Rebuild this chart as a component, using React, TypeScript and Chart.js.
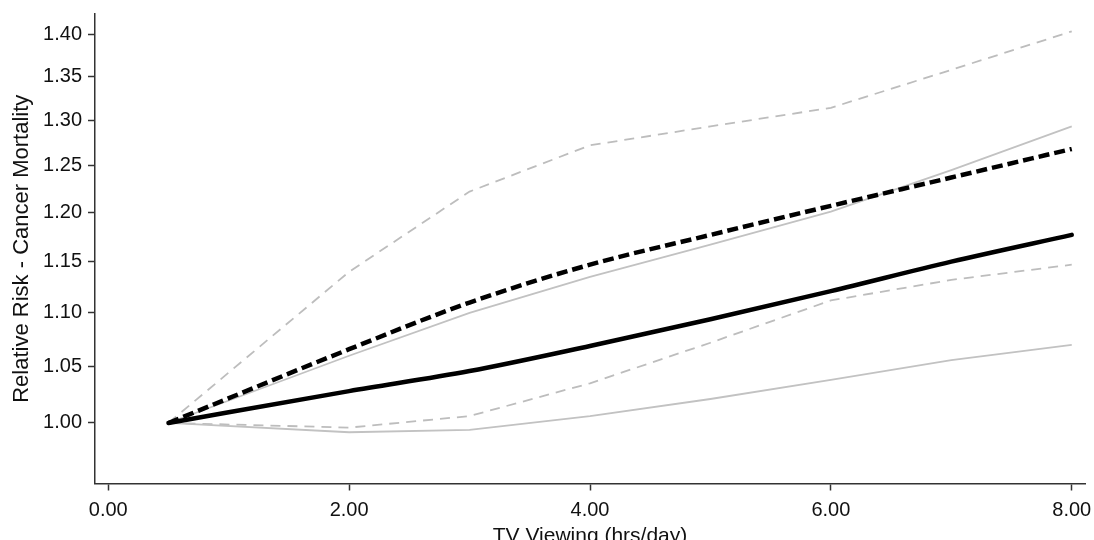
import React, { useEffect, useRef } from "react";
import { Chart, registerables } from "chart.js";

Chart.register(...registerables);

// TV viewing (hrs/day)
const xValues = [0.5, 2, 3, 4, 5, 6, 7, 8];
// Thick solid black estimate and its light-gray solid CI
const solidEstimate = [1.0, 1.028, 1.046, 1.069, 1.094, 1.121, 1.15, 1.177];
const solidUpper = [1.0, 1.06, 1.1, 1.135, 1.167, 1.201, 1.245, 1.293];
const solidLower = [1.0, 0.992, 0.994, 1.006, 1.021, 1.038, 1.056, 1.07];
// Thick dashed black estimate and its light-gray dashed CI
const dashedEstimate = [1.0, 1.066, 1.11, 1.147, 1.177, 1.207, 1.237, 1.268];
const dashedUpper = [1.0, 1.14, 1.222, 1.272, 1.293, 1.314, 1.358, 1.404];
const dashedLower = [1.0, 0.996, 1.006, 1.035, 1.072, 1.112, 1.132, 1.147];

const xTicks = [0, 2, 4, 6, 8];
const yTicks = [1.0, 1.05, 1.1, 1.15, 1.2, 1.25, 1.3, 1.35, 1.4];

const FONT = "'Liberation Sans', Arial, Helvetica, sans-serif";

const toPoints = (ys: number[]) => xValues.map((x, i) => ({ x, y: ys[i] }));

export default function App() {
  const canvasRef = useRef<HTMLCanvasElement | null>(null);

  useEffect(() => {
    const canvas = canvasRef.current;
    if (!canvas) return;
    const axisColor = "#333333";
    const grid = {
      display: true,
      drawOnChartArea: false,
      drawTicks: true,
      tickLength: 7,
      tickWidth: 1.5,
      tickColor: axisColor,
    };
    const border = { display: true, color: axisColor, width: 1.5 };

    const chart = new Chart(canvas, {
      type: "line",
      data: {
        datasets: [
          {
            label: "Estimate (solid)",
            data: toPoints(solidEstimate),
            borderColor: "#000000",
            borderWidth: 4.5,
            cubicInterpolationMode: "monotone",
            borderCapStyle: "round",
            pointRadius: 0,
            fill: false,
          },
          {
            label: "Estimate (dashed)",
            data: toPoints(dashedEstimate),
            borderColor: "#000000",
            borderWidth: 4.5,
            borderDash: [11, 5],
            cubicInterpolationMode: "monotone",
            pointRadius: 0,
            fill: false,
          },
          {
            label: "Upper CI (solid)",
            data: toPoints(solidUpper),
            borderColor: "#c2c2c2",
            borderWidth: 1.8,
            tension: 0,
            pointRadius: 0,
            fill: false,
          },
          {
            label: "Lower CI (solid)",
            data: toPoints(solidLower),
            borderColor: "#c2c2c2",
            borderWidth: 1.8,
            tension: 0,
            pointRadius: 0,
            fill: false,
          },
          {
            label: "Upper CI (dashed)",
            data: toPoints(dashedUpper),
            borderColor: "#bdbdbd",
            borderWidth: 1.8,
            borderDash: [10, 7],
            tension: 0,
            pointRadius: 0,
            fill: false,
          },
          {
            label: "Lower CI (dashed)",
            data: toPoints(dashedLower),
            borderColor: "#bdbdbd",
            borderWidth: 1.8,
            borderDash: [10, 7],
            tension: 0,
            pointRadius: 0,
            fill: false,
          },
        ],
      },
      options: {
        responsive: false,
        animation: false,
        layout: { padding: { top: 14, right: 9, left: 0, bottom: 0 } },
        plugins: {
          legend: { display: false },
          tooltip: { enabled: false },
        },
        scales: {
          x: {
            type: "linear",
            min: -0.11,
            max: 8.11,
            afterBuildTicks: (s: any) => {
              s.ticks = xTicks.map((v) => ({ value: v }));
            },
            ticks: {
              callback: (v: any) => Number(v).toFixed(2),
              font: { family: FONT, size: 20 },
              color: "#111111",
              padding: 8,
              maxRotation: 0,
              autoSkip: false,
            },
            grid,
            border,
            title: {
              display: true,
              text: "TV Viewing (hrs/day)",
              font: { family: FONT, size: 21 },
              color: "#111111",
              padding: { top: 0, bottom: -9 },
            },
            afterFit: (s: any) => {
              s.height = 56.5;
              s.paddingLeft = 0;
              s.paddingRight = 0;
            },
          },
          y: {
            type: "logarithmic",
            min: 0.9489,
            max: 1.4253,
            afterBuildTicks: (s: any) => {
              s.ticks = yTicks.map((v) => ({ value: v }));
            },
            ticks: {
              callback: (v: any) => Number(v).toFixed(2),
              font: { family: FONT, size: 20 },
              color: "#111111",
              padding: 6,
              autoSkip: false,
            },
            grid,
            border,
            title: {
              display: true,
              text: "Relative Risk - Cancer Mortality",
              font: { family: FONT, size: 22 },
              color: "#111111",
              padding: { top: 9, bottom: 0 },
            },
            afterFit: (s: any) => {
              s.width = 95;
              s.paddingTop = 0;
              s.paddingBottom = 0;
            },
          },
        },
      },
    } as any);

    return () => chart.destroy();
  }, []);

  return (
    <div
      style={{
        position: "fixed",
        left: 0,
        top: 0,
        width: 1094,
        height: 540,
        background: "#ffffff",
      }}
    >
      <canvas ref={canvasRef} width={1094} height={540} />
    </div>
  );
}
